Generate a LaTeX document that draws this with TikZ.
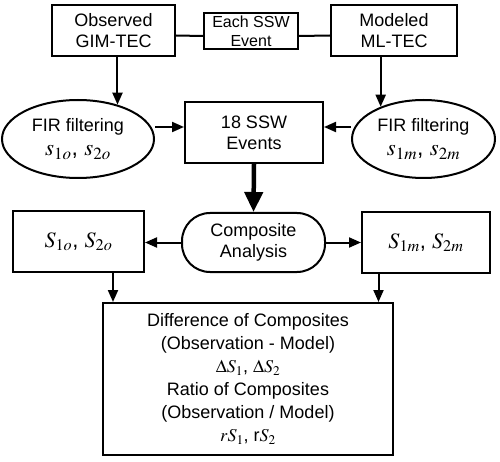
\documentclass[tikz,border=0pt]{standalone}
\usepackage{mathptmx}
\usepackage[no-math]{fontspec}
\setmainfont{Liberation Sans}
\usetikzlibrary{shapes.geometric,arrows.meta}
\begin{document}
\begin{tikzpicture}[x=1pt,y=-1pt,
  base/.style={draw, line width=2pt, align=center, inner sep=0pt, font=\fontsize{18}{21}\selectfont},
  boxn/.style={base, rectangle},
  elln/.style={base, ellipse},
  arr/.style={line width=2pt, -{Triangle[length=12pt,width=10pt]}},
  thk/.style={line width=4.5pt, -{Triangle[length=20pt,width=18pt]}},
  ln/.style={line width=2pt}]
\useasboundingbox (0,0) rectangle (500,462);

\node[boxn, minimum width=123pt, minimum height=51pt] (obs) at (113.5,30.5) {Observed\\GIM-TEC};
\node[boxn, minimum width=94pt, minimum height=36pt, font=\fontsize{16}{19}\selectfont] (each) at (251,31) {Each SSW\\Event};
\node[boxn, minimum width=126pt, minimum height=51pt] (mod) at (394,30.5) {Modeled\\ML-TEC};

\node[elln, minimum width=152pt, minimum height=78pt] (fl) at (78,139) {FIR filtering\\[3pt]{\fontsize{23}{26}\selectfont $s_{1o}$, $s_{2o}$}};
\node[boxn, minimum width=138pt, minimum height=61pt] (ssw) at (254,132.5) {18 SSW\\Events};
\node[elln, minimum width=143pt, minimum height=78pt] (fr) at (423.5,139) {FIR filtering\\[3pt]{\fontsize{23}{26}\selectfont $s_{1m}$, $s_{2m}$}};

\node[boxn, rounded corners=28pt, minimum width=143pt, minimum height=59pt] (comp) at (253.5,242.5) {Composite\\Analysis};
\node[boxn, minimum width=131pt, minimum height=61pt, font=\fontsize{22}{26}\selectfont] (sl) at (78.5,241.5) {$S_{1o}$, $S_{2o}$};
\node[boxn, minimum width=128pt, minimum height=61pt, font=\fontsize{22}{26}\selectfont] (sr) at (426,242.5) {$S_{1m}$, $S_{2m}$};

\node[boxn, minimum width=290pt, minimum height=152pt, font=\fontsize{18}{23}\selectfont] (res) at (248,379)
  {Difference of Composites\\(Observation - Model)\\$\Delta S_1$, $\Delta S_2$\\Ratio of Composites\\(Observation / Model)\\$rS_1$, r$S_2$};

% connectors
\draw[ln] ([yshift=-5pt]obs.east) -- ([yshift=-5pt]each.west);
\draw[ln] ([yshift=-5pt]each.east) -- ([yshift=-5pt]mod.east -| mod.west);

\draw[arr] (obs.south -| fl.41) -- (fl.41);
\draw[arr] (mod.south -| fr.143) -- (fr.143);

\coordinate (sswL) at ([yshift=5.5pt]ssw.west);
\coordinate (sswR) at ([yshift=5.5pt]ssw.east);
\draw[arr] (fl.east |- sswL) -- (sswL);
\draw[arr] (fr.west |- sswR) -- (sswR);

\draw[thk] (ssw.south) -- (comp.north);

\draw[arr] (comp.west) -- (comp.west -| sl.east);
\draw[arr] (comp.east) -- (comp.east -| sr.west);

\coordinate (dl) at ([xshift=34.5pt]sl.south);
\coordinate (dr) at ([xshift=-47.5pt]sr.south);
\draw[arr] (dl) -- (dl |- res.north);
\draw[arr] (dr) -- (dr |- res.north);
\end{tikzpicture}
\end{document}
